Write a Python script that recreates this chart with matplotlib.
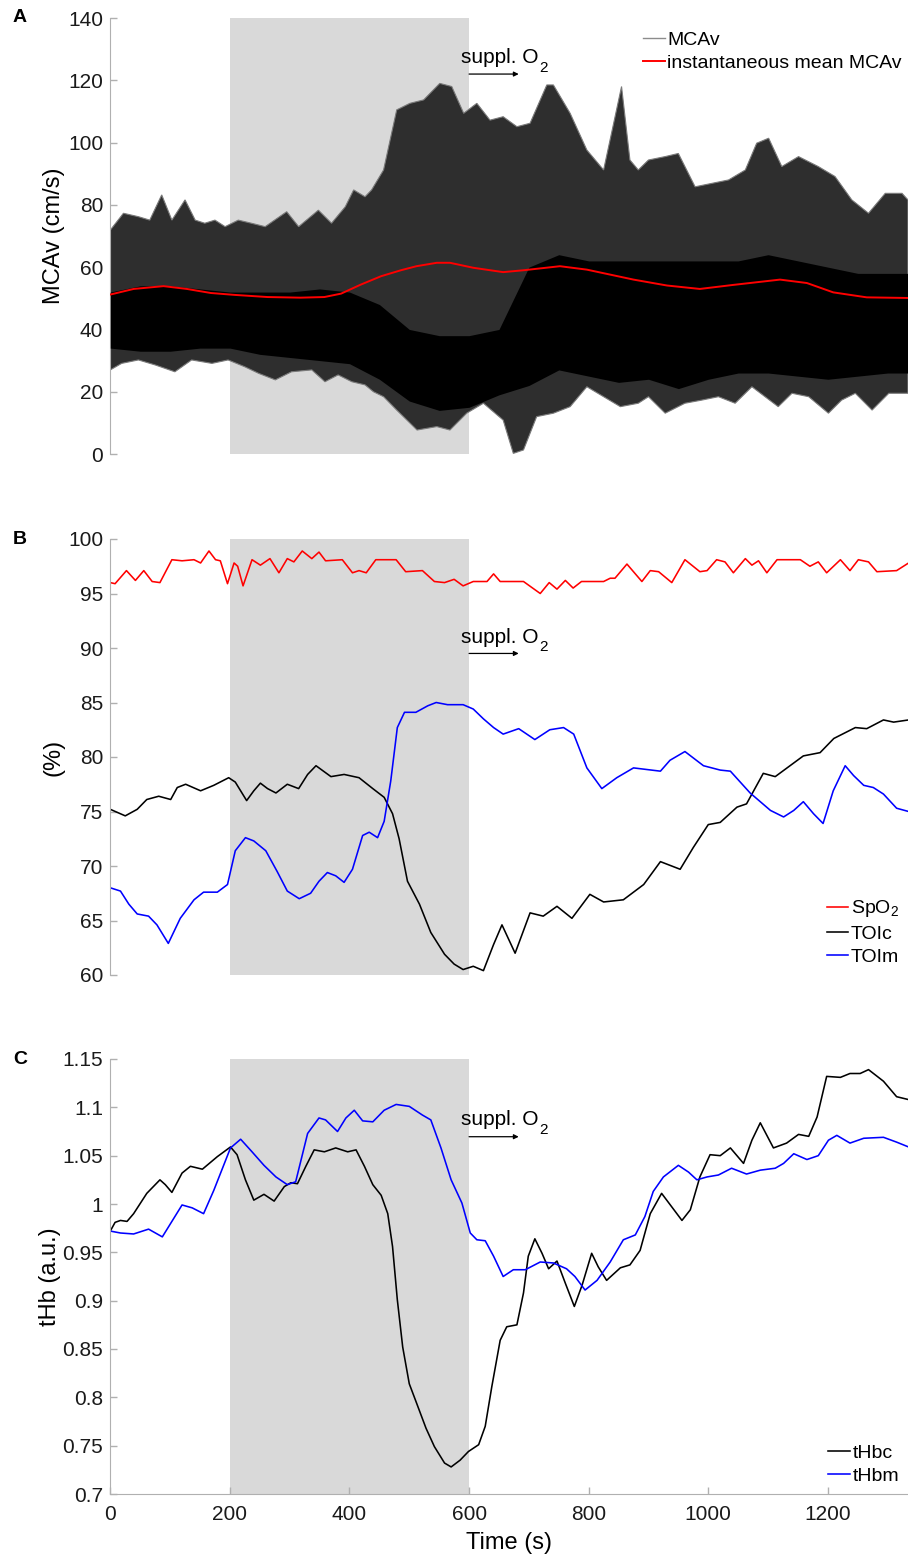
import numpy as np
import matplotlib
matplotlib.use('Agg')
import matplotlib.pyplot as plt
from matplotlib.lines import Line2D
from matplotlib.ticker import FuncFormatter

plt.rcParams['font.family'] = ['Liberation Sans', 'DejaVu Sans']
plt.rcParams['mathtext.fontset'] = 'custom'
plt.rcParams['mathtext.rm'] = 'Liberation Sans'
plt.rcParams['mathtext.it'] = 'Liberation Sans:italic'

# ---- panel A: MCAv envelope ----
mcav_hi_t = [0, 22, 47, 66, 86, 103, 125, 142, 158, 175, 192, 214, 236, 259, 295, 315, 348, 370,
             393, 407, 426, 437, 457, 479, 501, 524, 551, 571, 591, 613, 635, 657, 680, 702, 730,
             741, 769, 797, 825, 855, 869, 883, 900, 928, 950, 978, 1006, 1034, 1062, 1081, 1101,
             1123, 1151, 1184, 1212, 1240, 1268, 1296, 1324, 1334]
mcav_hi = [71.9, 77.3, 76.2, 75.1, 83.2, 75.1, 81.6, 75.1, 74.1, 75.1, 73.0, 75.1, 74.1, 73.0, 77.8,
           73.0, 78.3, 74.1, 79.4, 84.8, 82.6, 84.8, 91.2, 110.5, 112.6, 113.7, 119.0, 118.0, 109.4,
           112.6, 107.2, 108.3, 105.1, 106.2, 118.5, 118.5, 109.4, 97.6, 91.2, 118.0, 94.4, 91.2,
           94.4, 95.5, 96.5, 85.8, 86.9, 88.0, 91.2, 99.8, 101.4, 92.3, 95.5, 92.3, 89.1, 81.6, 77.3,
           83.7, 83.7, 81.6]
mcav_lo_t = [0, 19, 47, 75, 108, 136, 170, 197, 225, 248, 276, 303, 337, 359, 381, 404, 426, 440,
             457, 479, 513, 546, 568, 596, 624, 657, 674, 691, 713, 741, 769, 797, 825, 853, 883,
             900, 928, 961, 989, 1017, 1045, 1073, 1117, 1140, 1168, 1201, 1223, 1246, 1274, 1302, 1334]
mcav_lo = [27.0, 29.1, 30.2, 28.6, 26.4, 30.2, 29.1, 30.2, 28.0, 25.9, 23.8, 26.4, 27.0, 23.2, 25.4,
           23.2, 22.2, 20.0, 18.4, 14.1, 7.7, 8.8, 7.7, 13.1, 16.3, 10.9, 0.2, 1.3, 12.0, 13.1, 15.2,
           21.6, 18.4, 15.2, 16.3, 18.4, 13.1, 16.3, 17.3, 18.4, 16.3, 21.6, 15.2, 19.5, 18.4, 13.1,
           17.3, 19.5, 14.1, 19.5, 19.5]
core_t = [0, 50, 100, 150, 200, 250, 300, 350, 400, 450, 500, 550, 600, 650, 700, 750, 800, 850,
          900, 950, 1000, 1050, 1100, 1150, 1200, 1250, 1300, 1334]
core_hi = [52, 54, 54, 53, 52, 52, 52, 53, 52, 48, 40, 38, 38, 40, 60, 64, 62, 62, 62, 62, 62, 62,
           64, 62, 60, 58, 58, 58]
core_lo = [34, 33, 33, 34, 34, 32, 31, 30, 29, 24, 17, 14, 15, 19, 22, 27, 25, 23, 24, 21, 24, 26,
           26, 25, 24, 25, 26, 26]

mean_t = [0, 39, 89, 128, 168, 207, 263, 318, 358, 386, 419, 453, 486, 512, 546, 568, 607, 657,
          691, 752, 797, 875, 931, 986, 1042, 1120, 1165, 1209, 1265, 1334]
mean_mcav = [51.2, 53.0, 53.9, 53.0, 51.7, 51.1, 50.4, 50.2, 50.4, 51.5, 54.4, 57.1, 59.0, 60.3,
             61.4, 61.4, 59.8, 58.4, 59.0, 60.3, 59.2, 56.0, 54.1, 53.0, 54.3, 56.0, 54.9, 51.9,
             50.3, 50.1]

# ---- panel B ----
spo2_t = [0, 8, 27, 42, 56, 70, 83, 103, 120, 140, 151, 165, 176, 184, 196, 207, 213, 222, 237,
          251, 267, 282, 296, 307, 321, 337, 349, 360, 388, 405, 416, 428, 444, 478, 494, 522, 542,
          559, 575, 590, 607, 630, 641, 652, 691, 719, 734, 747, 761, 774, 788, 825, 836, 844, 864,
          889, 903, 917, 939, 961, 986, 998, 1014, 1028, 1042, 1062, 1073, 1084, 1098, 1115, 1154,
          1170, 1184, 1198, 1221, 1237, 1251, 1268, 1282, 1315, 1335]
spo2 = [96.0, 95.9, 97.1, 96.2, 97.1, 96.1, 96.0, 98.1, 98.0, 98.1, 97.8, 98.9, 98.1, 98.0, 95.9,
        97.8, 97.5, 95.7, 98.1, 97.6, 98.2, 96.9, 98.2, 97.9, 98.9, 98.2, 98.8, 98.0, 98.1, 96.9,
        97.1, 96.9, 98.1, 98.1, 97.0, 97.1, 96.1, 96.0, 96.3, 95.7, 96.1, 96.1, 96.8, 96.1, 96.1,
        95.0, 96.0, 95.4, 96.2, 95.5, 96.1, 96.1, 96.4, 96.4, 97.7, 96.1, 97.1, 97.0, 96.0, 98.1,
        97.0, 97.1, 98.1, 97.9, 96.9, 98.2, 97.6, 98.0, 96.9, 98.1, 98.1, 97.5, 97.9, 96.9, 98.1,
        97.1, 98.1, 97.9, 97.0, 97.1, 97.8]

toic_t = [0, 25, 45, 61, 81, 101, 112, 126, 151, 173, 198, 209, 228, 240, 251, 263, 277, 296, 315,
          330, 344, 369, 391, 416, 439, 458, 472, 483, 497, 517, 536, 559, 575, 590, 607, 624, 641,
          655, 677, 702, 724, 747, 772, 802, 825, 858, 892, 920, 953, 975, 1000, 1020, 1048, 1064,
          1092, 1112, 1159, 1187, 1210, 1246, 1265, 1293, 1310, 1335]
toic = [75.2, 74.6, 75.2, 76.1, 76.4, 76.1, 77.2, 77.5, 76.9, 77.4, 78.1, 77.7, 76.0, 76.9, 77.6,
        77.1, 76.7, 77.5, 77.1, 78.4, 79.2, 78.2, 78.4, 78.1, 77.1, 76.3, 74.8, 72.5, 68.6, 66.5,
        63.9, 61.9, 61.0, 60.5, 60.8, 60.4, 62.8, 64.6, 62.0, 65.7, 65.4, 66.3, 65.2, 67.4, 66.7,
        66.9, 68.3, 70.4, 69.7, 71.7, 73.8, 74.0, 75.4, 75.7, 78.5, 78.2, 80.1, 80.4, 81.7, 82.7,
        82.6, 83.4, 83.2, 83.4]

toim_t = [0, 17, 31, 45, 64, 78, 97, 117, 140, 156, 179, 196, 209, 226, 240, 260, 279, 296, 316,
          335, 349, 363, 377, 391, 405, 422, 433, 447, 458, 469, 480, 492, 511, 531, 545, 564, 590,
          607, 624, 641, 657, 683, 710, 735, 758, 775, 797, 822, 847, 875, 920, 936, 961, 992, 1020,
          1037, 1070, 1104, 1126, 1143, 1159, 1176, 1192, 1209, 1229, 1243, 1260, 1276, 1293, 1315,
          1335]
toim = [68.0, 67.7, 66.5, 65.6, 65.4, 64.6, 62.9, 65.2, 66.9, 67.6, 67.6, 68.3, 71.4, 72.6, 72.3,
        71.4, 69.5, 67.7, 67.0, 67.5, 68.6, 69.4, 69.1, 68.5, 69.7, 72.8, 73.1, 72.6, 74.1, 77.8,
        82.7, 84.1, 84.1, 84.7, 85.0, 84.8, 84.8, 84.4, 83.5, 82.7, 82.1, 82.6, 81.6, 82.5, 82.7,
        82.1, 79.0, 77.1, 78.1, 79.0, 78.7, 79.7, 80.5, 79.2, 78.8, 78.7, 76.7, 75.1, 74.5, 75.1,
        75.9, 74.8, 73.9, 76.9, 79.2, 78.3, 77.4, 77.2, 76.6, 75.3, 75.0]

# ---- panel C ----
thbc_t = [0, 8, 17, 28, 39, 61, 83, 92, 103, 120, 134, 154, 179, 201, 212, 226, 240, 257, 274, 291,
          302, 313, 327, 341, 358, 377, 397, 411, 425, 439, 453, 464, 472, 480, 489, 500, 511, 528,
          542, 559, 570, 585, 599, 616, 627, 638, 652, 663, 680, 691, 699, 710, 722, 733, 747, 761,
          776, 789, 805, 816, 830, 853, 869, 886, 903, 922, 939, 956, 970, 986, 1003, 1020, 1037,
          1059, 1073, 1087, 1109, 1131, 1151, 1168, 1182, 1198, 1221, 1237, 1254, 1268, 1293, 1315,
          1335]
thbc = [0.972, 0.981, 0.983, 0.982, 0.990, 1.011, 1.025, 1.020, 1.012, 1.032, 1.039, 1.036, 1.049,
        1.059, 1.051, 1.025, 1.004, 1.010, 1.003, 1.018, 1.022, 1.021, 1.039, 1.056, 1.054, 1.058,
        1.054, 1.056, 1.039, 1.020, 1.009, 0.990, 0.956, 0.901, 0.852, 0.814, 0.796, 0.768, 0.749,
        0.732, 0.728, 0.735, 0.744, 0.751, 0.770, 0.811, 0.859, 0.873, 0.875, 0.908, 0.946, 0.964,
        0.949, 0.933, 0.941, 0.918, 0.894, 0.916, 0.949, 0.935, 0.921, 0.934, 0.937, 0.952, 0.990,
        1.011, 0.997, 0.983, 0.994, 1.028, 1.051, 1.050, 1.058, 1.042, 1.066, 1.084, 1.058, 1.063,
        1.072, 1.070, 1.090, 1.132, 1.131, 1.135, 1.135, 1.139, 1.127, 1.111, 1.108]

thbm_t = [0, 17, 39, 64, 87, 103, 120, 137, 156, 173, 201, 218, 237, 257, 277, 296, 310, 330, 349,
          360, 380, 394, 408, 422, 439, 458, 478, 500, 522, 536, 553, 570, 588, 602, 613, 627, 641,
          657, 674, 694, 719, 741, 763, 777, 794, 814, 836, 858, 878, 894, 908, 925, 950, 967, 981,
          998, 1017, 1039, 1064, 1087, 1112, 1126, 1143, 1165, 1184, 1201, 1215, 1237, 1260, 1293,
          1315, 1335]
thbm = [0.972, 0.970, 0.969, 0.974, 0.966, 0.982, 0.999, 0.996, 0.990, 1.014, 1.058, 1.067, 1.054,
        1.040, 1.028, 1.020, 1.023, 1.073, 1.089, 1.087, 1.075, 1.089, 1.097, 1.086, 1.085, 1.097,
        1.103, 1.101, 1.092, 1.087, 1.058, 1.025, 1.001, 0.970, 0.963, 0.962, 0.946, 0.925, 0.932,
        0.932, 0.940, 0.939, 0.933, 0.925, 0.911, 0.921, 0.940, 0.963, 0.968, 0.987, 1.013, 1.028,
        1.040, 1.033, 1.025, 1.028, 1.030, 1.037, 1.031, 1.035, 1.037, 1.042, 1.052, 1.046, 1.050,
        1.066, 1.071, 1.063, 1.068, 1.069, 1.064, 1.059]

hypoxia_window = (200, 600)
o2_start = 600
o2_arrow_end = 683
t_end = 1334

fig = plt.figure(figsize=(9.08, 15.56), dpi=100)
W = 0.8785
L = 110.3 / 908
axA = fig.add_axes([L, 1 - 454 / 1556, W, 436 / 1556])
axB = fig.add_axes([L, 1 - 975 / 1556, W, 436 / 1556])
axC = fig.add_axes([L, 1 - 1494 / 1556, W, 435 / 1556])

spine_col = '#b0b0b0'
tick_fs = 15
lab_fs = 17
leg_fs = 14
lw = 1.15
for ax in (axA, axB, axC):
    ax.axvspan(*hypoxia_window, color='#d9d9d9', lw=0, zorder=0)
    ax.set_xlim(0, t_end)
    for s in ('top', 'right'):
        ax.spines[s].set_visible(False)
    ax.spines['left'].set_color(spine_col)
    ax.spines['bottom'].set_color(spine_col)
    ax.tick_params(direction='in', length=5, width=1, color=spine_col, labelsize=tick_fs,
                   labelcolor='#1a1a1a', pad=5)
for ax in (axA, axB):
    ax.spines['bottom'].set_visible(False)
    ax.set_xticks([])

# A
axA.fill(np.concatenate([mcav_hi_t, mcav_lo_t[::-1]]), np.concatenate([mcav_hi, mcav_lo[::-1]]),
         fc='#2e2e2e', lw=0.8, ec='#7a7a7a', zorder=2)
axA.fill_between(core_t, core_lo, core_hi, color='black', lw=0, zorder=3)
axA.plot(mean_t, mean_mcav, color='red', lw=1.4, zorder=4)
axA.set_ylim(0, 140)
axA.set_yticks(np.arange(0, 141, 20))
axA.set_ylabel('MCAv (cm/s)', fontsize=lab_fs, labelpad=2)
hA = [Line2D([], [], color='#8c8c8c', lw=1), Line2D([], [], color='red', lw=1.4)]
axA.legend(hA, ['MCAv', 'instantaneous mean MCAv'], loc='upper left',
           bbox_to_anchor=(0.668, 0.970), frameon=False, fontsize=leg_fs, handlelength=1.1,
           handletextpad=0.15, labelspacing=0.3, borderaxespad=0, borderpad=0)

# B
axB.plot(spo2_t, spo2, color='red', lw=lw, label='SpO$_\\mathregular{2}$')
axB.plot(toic_t, toic, color='black', lw=lw, label='TOIc')
axB.plot(toim_t, toim, color='blue', lw=lw, label='TOIm')
axB.set_ylim(60, 100)
axB.set_yticks(np.arange(60, 101, 5))
axB.set_ylabel('(%)', fontsize=lab_fs, labelpad=3)
axB.legend(loc='lower right', bbox_to_anchor=(1.0, 0.0), frameon=False, fontsize=leg_fs,
           handlelength=1.1, handletextpad=0.15, labelspacing=0.3, borderaxespad=0.45,
           borderpad=0)

# C
axC.plot(thbc_t, thbc, color='black', lw=lw, label='tHbc')
axC.plot(thbm_t, thbm, color='blue', lw=lw, label='tHbm')
axC.set_ylim(0.7, 1.15)
axC.set_yticks(np.round(np.arange(0.7, 1.151, 0.05), 2))
axC.yaxis.set_major_formatter(FuncFormatter(lambda v, p: '%g' % round(v, 2)))
axC.set_xticks(np.arange(0, 1201, 200))
axC.tick_params(axis='x', pad=8)
axC.set_ylabel('tHb (a.u.)', fontsize=lab_fs, labelpad=1)
axC.set_xlabel('Time (s)', fontsize=lab_fs, labelpad=6)
axC.legend(loc='lower right', bbox_to_anchor=(1.0, 0.0), frameon=False, fontsize=leg_fs,
           handlelength=1.1, handletextpad=0.15, labelspacing=0.3, borderaxespad=0.45,
           borderpad=0)

# suppl. O2 annotations
for ax, ytxt, yarr in ((axA, 125.5, 122.0), (axB, 90.5, 89.5), (axC, 1.0817, 1.0696)):
    txt = ax.text(587, ytxt, 'suppl. O', fontsize=15, va='baseline', ha='left', zorder=6)
    ax.annotate('2', xy=(1, 0), xycoords=txt, xytext=(0.3, -3.5), textcoords='offset points',
                fontsize=11, va='baseline', ha='left', zorder=6)
    ax.annotate('', xy=(o2_arrow_end, yarr), xytext=(o2_start, yarr),
                arrowprops=dict(arrowstyle='-|>', color='black', lw=0.9,
                                mutation_scale=7, shrinkA=0, shrinkB=0), zorder=6)

for ax, lab in ((axA, 'A'), (axB, 'B'), (axC, 'C')):
    bb = ax.get_position()
    fig.text(13 / 908, bb.y1, lab, fontsize=14, fontweight='bold', va='center', ha='left')

fig.savefig('out.png', dpi=100)
